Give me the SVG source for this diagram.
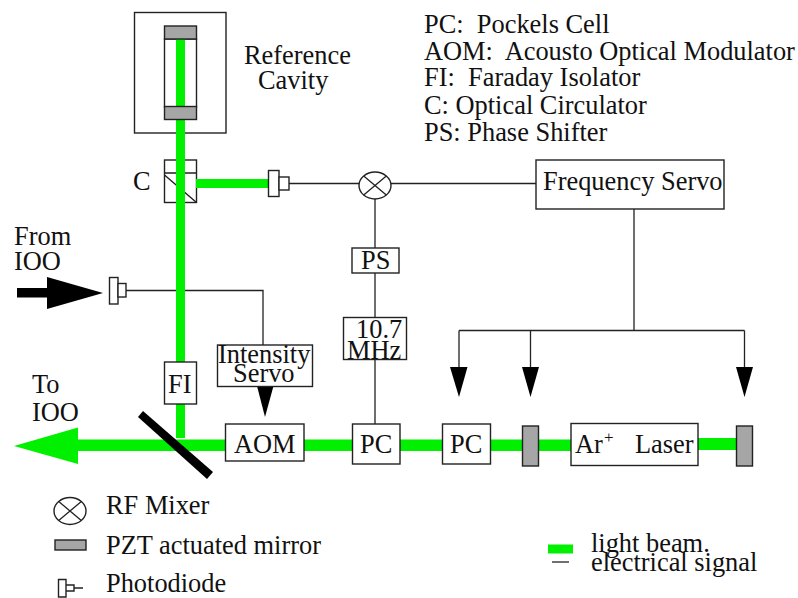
<svg xmlns="http://www.w3.org/2000/svg" width="798" height="598" viewBox="0 0 798 598">
<style>
text{font-family:"Liberation Serif","Times New Roman",serif;font-size:26.4px;fill:#111;white-space:pre}
.box{fill:#fff;stroke:#222;stroke-width:1.4}
.pzt{fill:#a6a6a6;stroke:#222;stroke-width:1.4}
.beam{fill:#00f000;stroke:none}
.wire{fill:none;stroke:#222;stroke-width:1.3}
.head{fill:#000;stroke:none}
.open{fill:none;stroke:#222;stroke-width:1.4}
</style>
<defs>
<g id="mix"><ellipse class="box" cx="0" cy="0" rx="16" ry="13.500"/><path class="wire" d="M-11.300-9.500L11.300 9.500M-11.300 9.500L11.300-9.500"/></g>
</defs>
<g id="reference-cavity">
<rect class="box" x="134.500" y="12.500" width="91.500" height="120.500"/>
<rect class="box" x="164.500" y="39" width="32" height="68"/>
<text x="244" y="64">Reference</text>
<text x="258" y="89">Cavity</text>
</g>
<g id="circulator">
<rect class="box" x="164.500" y="160" width="32" height="42.500"/>
<path class="open" d="M164.500 173H196.500M164.500 175L196.500 202.500"/>
<text x="133" y="190">C</text>
</g>
<g id="connectors">
<path class="wire" d="M289 183.500H360M391 183.500H536"/>
<path class="wire" d="M375 199V248M375 273V317M375 360V424"/>
<path class="wire" d="M634 209V330.500M459 330.500H744.500M459 330.500V368M530.500 330.500V368M744.500 330.500V368"/>
<path class="wire" d="M126 290.500H263V345"/>
<rect class="beam" x="176" y="39" width="9" height="399"/>
<rect class="beam" x="196" y="179" width="72" height="9"/>
<rect class="beam" x="78" y="439.500" width="148" height="11.500"/>
<rect class="beam" x="304" y="439.500" width="50" height="11.500"/>
<rect class="beam" x="400" y="439.500" width="44" height="11.500"/>
<rect class="beam" x="490" y="439.500" width="33" height="11.500"/>
<rect class="beam" x="538" y="439.500" width="34" height="11.500"/>
<rect class="beam" x="698" y="438" width="38" height="12"/>
<path class="beam" d="M14 446L78 427.500V464Z"/>
<rect class="head" x="17" y="288" width="32" height="9.500"/>
<path class="head" d="M47 277L103 293L47 309Z"/>
<path class="head" d="M257 386H273.500L265 417Z"/>
<path class="head" d="M450 367H467.500L459 397Z"/>
<path class="head" d="M522 367H539L530.500 397Z"/>
<path class="head" d="M736 367H753L744.500 397Z"/>
<path class="head" d="M143 411L213 472L207 479L138 417Z"/>
</g>
<g id="cavity-mirrors">
<rect class="pzt" x="164.500" y="26" width="32" height="13"/>
<rect class="pzt" x="164.500" y="106.500" width="32" height="13"/>
</g>
<g id="photodiode-top"><rect class="box" x="268.500" y="170.500" width="10.500" height="26"/><rect class="box" x="279" y="177" width="10" height="13"/></g>
<g id="mixer"><use href="#mix" transform="translate(375 185.500)"/></g>
<g id="frequency-servo"><rect class="box" x="536" y="160" width="188" height="49"/><text x="543" y="190">Frequency Servo</text></g>
<g id="ps"><rect class="box" x="352" y="248" width="47" height="25"/><text x="361" y="269">PS</text></g>
<g id="mhz"><rect class="box" x="343.500" y="317.500" width="63" height="42"/><text x="356" y="338">10.7</text><text x="347" y="359">MHz</text></g>
<g id="photodiode-left"><rect class="box" x="109.500" y="277.500" width="8.500" height="26.500"/><rect class="box" x="118" y="283.500" width="8" height="13.500"/></g>
<g id="from-ioo"><text x="14" y="245">From</text><text x="14" y="270">IOO</text></g>
<g id="to-ioo"><text x="32" y="393">To</text><text x="32" y="421">IOO</text></g>
<g id="fi"><rect class="box" x="164.500" y="362" width="32" height="42"/><text x="168" y="393">FI</text></g>
<g id="intensity-servo"><rect class="box" x="217.500" y="345" width="95" height="41.500"/><text x="218" y="363">Intensity</text><text x="233" y="382">Servo</text></g>
<g id="aom"><rect class="box" x="225.500" y="424" width="78.500" height="37"/><text x="234" y="453">AOM</text></g>
<g id="pc1"><rect class="box" x="352.500" y="424" width="47.500" height="40"/><text x="360" y="453">PC</text></g>
<g id="pc2"><rect class="box" x="442.500" y="424" width="48" height="40"/><text x="450" y="453">PC</text></g>
<g id="mirror1"><rect class="pzt" x="522.500" y="426" width="16" height="40"/></g>
<g id="laser"><rect class="box" x="571" y="423.500" width="127" height="42"/><text x="575" y="453">Ar</text><text x="604" y="443" style="font-size:17px">+</text><text x="635" y="453">Laser</text></g>
<g id="mirror2"><rect class="pzt" x="736.500" y="426" width="16" height="40"/></g>
<g id="key">
<text x="424" y="33">PC:  Pockels Cell</text>
<text x="424" y="60">AOM:  Acousto Optical Modulator</text>
<text x="424" y="86">FI:  Faraday Isolator</text>
<text x="424" y="114">C: Optical Circulator</text>
<text x="424" y="141">PS: Phase Shifter</text>
</g>
<g id="legend">
<use href="#mix" transform="translate(70 511)"/>
<text x="106" y="514">RF Mixer</text>
<rect class="pzt" x="55" y="540" width="31" height="10"/>
<text x="106" y="554">PZT actuated mirror</text>
<path class="open" d="M58.500 579.500H66V597H58.500ZM66 585H74V591H66ZM74 588H83"/>
<text x="106" y="592">Photodiode</text>
<rect class="beam" x="548" y="544.500" width="25" height="9"/>
<path class="wire" d="M552 562H569"/>
<text x="591" y="552">light beam.</text>
<text x="591" y="571">electrical signal</text>
</g>
</svg>
